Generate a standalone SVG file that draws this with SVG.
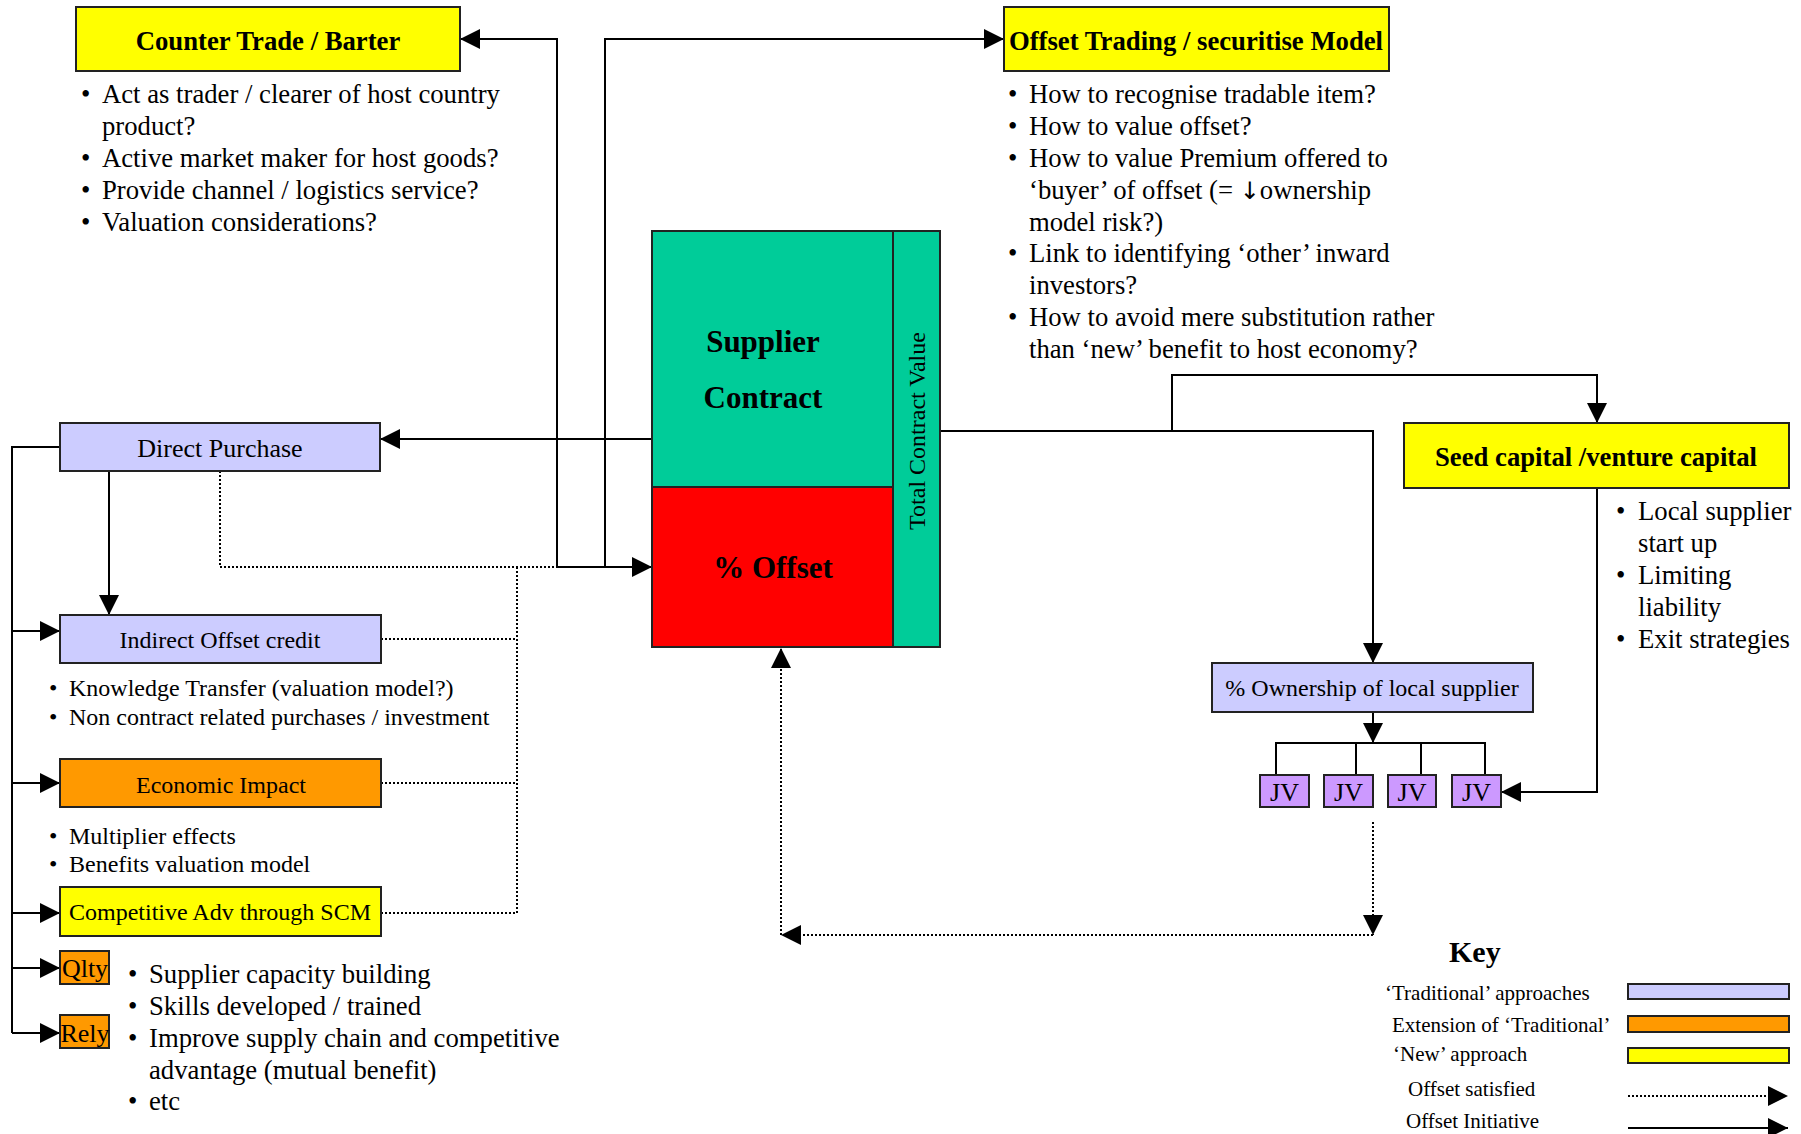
<svg xmlns="http://www.w3.org/2000/svg" width="1801" height="1134" viewBox="0 0 1801 1134">
<style>
text { font-family: "Liberation Serif", "Times New Roman", serif; fill: #000; }
.b { font-weight: bold; font-size: 26.7px; }
.big { font-weight: bold; font-size: 31px; }
.m { font-size: 26.7px; }
.s { font-size: 24px; }
.k { font-size: 21px; }
.c { text-anchor: middle; }
.box { stroke: #222; stroke-width: 2; }
.yel { fill: #FFFF00; }
.lav { fill: #CCCCFF; }
.org { fill: #FF9900; }
.grn { fill: #00CC99; }
.red { fill: #FF0000; }
.pur { fill: #CC99FF; }
.ln { fill: none; stroke: #000; stroke-width: 2; }
.dot { fill: none; stroke: #000; stroke-width: 2; stroke-dasharray: 2 2; }
.arr { marker-end: url(#ah); }
</style>
<defs>
<marker id="ah" markerUnits="userSpaceOnUse" markerWidth="20" markerHeight="20" refX="20" refY="10" orient="auto" viewBox="0 0 20 20">
<path d="M0,0 L20,10 L0,20 z" fill="#000"/>
</marker>
</defs>
<rect width="1801" height="1134" fill="#fff"/>

<g id="connectors">
<polyline class="ln arr" points="557,567 557,39 460,39"/>
<polyline class="ln arr" points="605,567 605,39 1004,39"/>
<polyline class="dot" points="220,471 220,567 556,567"/>
<line class="ln arr" x1="556" y1="567" x2="652" y2="567"/>
<line class="ln arr" x1="652" y1="439" x2="380" y2="439"/>
<polyline class="ln" points="60,447 12,447 12,1033"/>
<line class="ln arr" x1="12" y1="631" x2="60" y2="631"/>
<line class="ln arr" x1="12" y1="783" x2="60" y2="783"/>
<line class="ln arr" x1="12" y1="913" x2="60" y2="913"/>
<line class="ln arr" x1="12" y1="968" x2="60" y2="968"/>
<line class="ln arr" x1="12" y1="1033" x2="60" y2="1033"/>
<line class="ln arr" x1="109" y1="471" x2="109" y2="615"/>
<line class="dot" x1="381" y1="639" x2="517" y2="639"/>
<line class="dot" x1="381" y1="783" x2="517" y2="783"/>
<polyline class="dot" points="381,913 517,913 517,567"/>
<polyline class="ln arr" points="940,431 1373,431 1373,663"/>
<polyline class="ln arr" points="1172,431 1172,375 1597,375 1597,423"/>
<polyline class="ln arr" points="1597,488 1597,792 1501,792"/>
<line class="ln arr" x1="1373" y1="712" x2="1373" y2="743"/>
<polyline class="ln" points="1276,775 1276,743 1485,743 1485,775"/>
<line class="ln" x1="1356" y1="743" x2="1356" y2="775"/>
<line class="ln" x1="1421" y1="743" x2="1421" y2="775"/>
<line class="dot arr" x1="1373" y1="822" x2="1373" y2="935"/>
<line class="dot arr" x1="1373" y1="935" x2="781" y2="935"/>
<line class="dot arr" x1="781" y1="935" x2="781" y2="648"/>
</g>

<g id="counter-trade">
<rect class="box yel" x="76" y="7" width="384" height="64"/>
<text class="b c" x="268" y="50">Counter Trade / Barter</text>
<text class="m" x="81" y="103">•</text><text class="m" x="102" y="103">Act as trader / clearer of host country</text>
<text class="m" x="102" y="135">product?</text>
<text class="m" x="81" y="167">•</text><text class="m" x="102" y="167">Active market maker for host goods?</text>
<text class="m" x="81" y="199">•</text><text class="m" x="102" y="199">Provide channel / logistics service?</text>
<text class="m" x="81" y="231">•</text><text class="m" x="102" y="231">Valuation considerations?</text>
</g>

<g id="offset-trading">
<rect class="box yel" x="1004" y="7" width="385" height="64"/>
<text class="b c" x="1196" y="50">Offset Trading / securitise Model</text>
<text class="m" x="1008" y="103">•</text><text class="m" x="1029" y="103">How to recognise tradable item?</text>
<text class="m" x="1008" y="135">•</text><text class="m" x="1029" y="135">How to value offset?</text>
<text class="m" x="1008" y="167">•</text><text class="m" x="1029" y="167">How to value Premium offered to</text>
<text class="m" x="1029" y="199">‘buyer’ of offset (= <tspan style="font-family:'DejaVu Sans',sans-serif;font-size:24px">↓</tspan>ownership</text>
<text class="m" x="1029" y="231">model risk?)</text>
<text class="m" x="1008" y="262">•</text><text class="m" x="1029" y="262">Link to identifying ‘other’ inward</text>
<text class="m" x="1029" y="294">investors?</text>
<text class="m" x="1008" y="326">•</text><text class="m" x="1029" y="326">How to avoid mere substitution rather</text>
<text class="m" x="1029" y="358">than ‘new’ benefit to host economy?</text>
</g>

<g id="supplier-contract">
<rect class="box grn" x="652" y="231" width="241" height="256"/>
<rect class="box red" x="652" y="487" width="241" height="160"/>
<rect class="box grn" x="893" y="231" width="47" height="416"/>
<text class="big c" x="763" y="352">Supplier</text>
<text class="big c" x="763" y="408">Contract</text>
<text class="big c" x="773" y="578">% Offset</text>
<text class="s c" transform="translate(925,431) rotate(-90)" x="0" y="0">Total Contract Value</text>
</g>

<g id="direct-purchase">
<rect class="box lav" x="60" y="423" width="320" height="48"/>
<text class="c" style="font-size:26px" x="220" y="457">Direct Purchase</text>
</g>

<g id="indirect-offset">
<rect class="box lav" x="60" y="615" width="321" height="48"/>
<text class="s c" x="220" y="648">Indirect Offset credit</text>
<text class="s" x="49" y="696">•</text><text class="s" x="69" y="696">Knowledge Transfer (valuation model?)</text>
<text class="s" x="49" y="725">•</text><text class="s" x="69" y="725">Non contract related purchases / investment</text>
</g>

<g id="economic-impact">
<rect class="box org" x="60" y="759" width="321" height="48"/>
<text class="s c" x="221" y="793">Economic Impact</text>
<text class="s" x="49" y="844">•</text><text class="s" x="69" y="844">Multiplier effects</text>
<text class="s" x="49" y="872">•</text><text class="s" x="69" y="872">Benefits valuation model</text>
</g>

<g id="competitive-adv">
<rect class="box yel" x="60" y="887" width="321" height="49"/>
<text class="s c" x="220" y="920">Competitive Adv through SCM</text>
</g>

<g id="qlty">
<rect class="box org" x="60" y="951" width="49" height="33"/>
<text class="c" style="font-size:26px" x="85" y="977">Qlty</text>
</g>

<g id="rely">
<rect class="box org" x="60" y="1015" width="49" height="33"/>
<text class="c" style="font-size:26px" x="85" y="1042">Rely</text>
</g>

<g id="scm-bullets">
<text class="m" x="128" y="983">•</text><text class="m" x="149" y="983">Supplier capacity building</text>
<text class="m" x="128" y="1015">•</text><text class="m" x="149" y="1015">Skills developed / trained</text>
<text class="m" x="128" y="1047">•</text><text class="m" x="149" y="1047">Improve supply chain and competitive</text>
<text class="m" x="149" y="1079">advantage (mutual benefit)</text>
<text class="m" x="128" y="1110">•</text><text class="m" x="149" y="1110">etc</text>
</g>

<g id="seed-capital">
<rect class="box yel" x="1404" y="423" width="385" height="65"/>
<text class="b c" x="1596" y="466">Seed capital /venture capital</text>
<text class="m" x="1616" y="520">•</text><text class="m" x="1638" y="520">Local supplier</text>
<text class="m" x="1638" y="552">start up</text>
<text class="m" x="1616" y="584">•</text><text class="m" x="1638" y="584">Limiting</text>
<text class="m" x="1638" y="616">liability</text>
<text class="m" x="1616" y="648">•</text><text class="m" x="1638" y="648">Exit strategies</text>
</g>

<g id="ownership">
<rect class="box lav" x="1212" y="663" width="321" height="49"/>
<text class="s c" x="1372" y="696">% Ownership of local supplier</text>
</g>

<g id="jv1"><rect class="box pur" x="1260" y="775" width="49" height="32"/><text class="c" style="font-size:26px" x="1284.5" y="801">JV</text></g>
<g id="jv2"><rect class="box pur" x="1324" y="775" width="49" height="32"/><text class="c" style="font-size:26px" x="1348.5" y="801">JV</text></g>
<g id="jv3"><rect class="box pur" x="1388" y="775" width="48" height="32"/><text class="c" style="font-size:26px" x="1412" y="801">JV</text></g>
<g id="jv4"><rect class="box pur" x="1452" y="775" width="49" height="32"/><text class="c" style="font-size:26px" x="1476.5" y="801">JV</text></g>

<g id="key">
<text style="font-weight:bold;font-size:30px" x="1449" y="962">Key</text>
<text class="k" x="1385" y="1000">‘Traditional’ approaches</text>
<text class="k" x="1392" y="1032">Extension of ‘Traditional’</text>
<text class="k" x="1393" y="1061">‘New’ approach</text>
<text class="k" x="1408" y="1096">Offset satisfied</text>
<text class="k" x="1406" y="1128">Offset Initiative</text>
<rect class="box lav" x="1628" y="984" width="161" height="15"/>
<rect class="box org" x="1628" y="1016" width="161" height="16"/>
<rect class="box yel" x="1628" y="1048" width="161" height="15"/>
<line class="dot arr" x1="1628" y1="1096" x2="1788" y2="1096"/>
<line class="ln arr" x1="1628" y1="1128" x2="1788" y2="1128"/>
</g>
</svg>
